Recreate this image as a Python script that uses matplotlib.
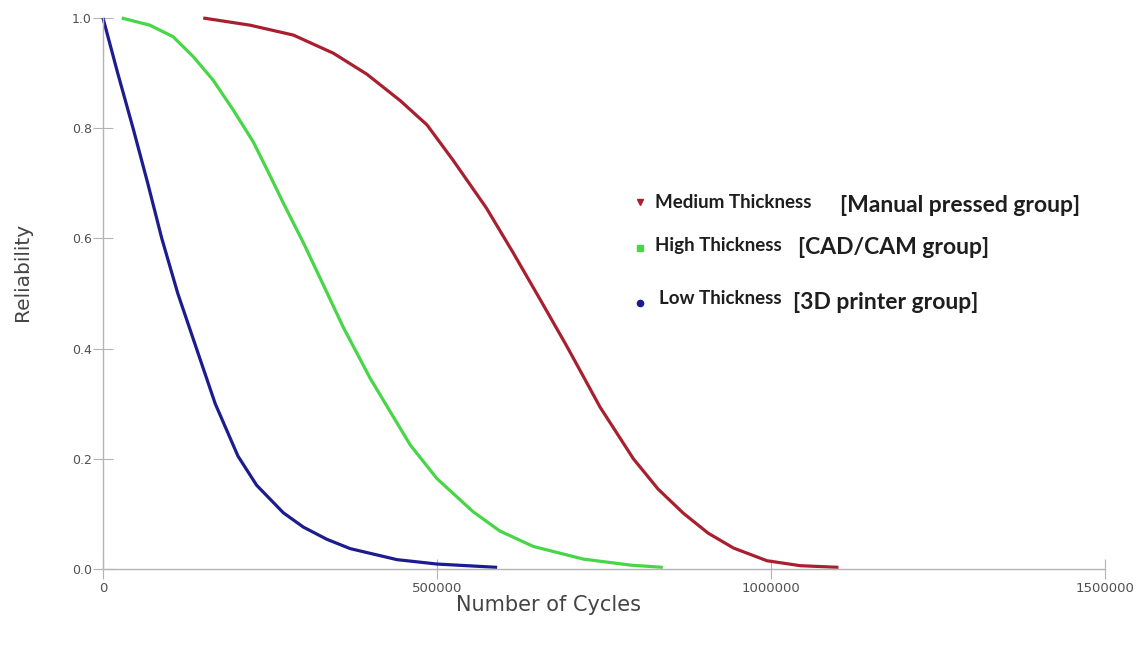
import matplotlib
matplotlib.use('Agg')
import matplotlib.pyplot as plt

# ── Reliability curves (cycles, reliability) ──────────────────────────────────
MEDIUM_CYCLES = [150000, 220000, 285000, 345000, 395000, 445000, 485000, 524000,
                 574000, 614000, 654000, 694000, 722000, 744000, 794000,
                 831000, 869000, 906000, 944000, 994000, 1044000, 1101000]
MEDIUM_REL = [1.0, 0.987, 0.969, 0.936, 0.898, 0.850, 0.806, 0.742,
              0.655, 0.574, 0.49, 0.405, 0.343, 0.294, 0.2,
              0.145, 0.101, 0.065, 0.038, 0.015, 0.006, 0.003]

HIGH_CYCLES = [28000, 70000, 105000, 135000, 165000, 195000, 225000, 250000,
               270000, 300000, 325000, 360000, 400000, 460000, 500000, 554000,
               594000, 644000, 719000, 790000, 838000]
HIGH_REL = [1.0, 0.987, 0.966, 0.930, 0.887, 0.833, 0.775, 0.714,
            0.664, 0.592, 0.528, 0.438, 0.346, 0.225, 0.164, 0.104,
            0.069, 0.041, 0.018, 0.007, 0.003]

LOW_CYCLES = [0, 22000, 45000, 67000, 88000, 112000, 140000, 168000, 202000,
              230000, 270000, 300000, 335000, 370000, 440000, 500000, 590000]
LOW_REL = [1.0, 0.9, 0.8, 0.7, 0.6, 0.5, 0.4, 0.3, 0.205,
           0.152, 0.102, 0.076, 0.054, 0.037, 0.017, 0.009, 0.003]

X_TICKS = [0, 500000, 1000000, 1500000]
Y_TICKS = [0.0, 0.2, 0.4, 0.6, 0.8, 1.0]

RED = '#a8202f'
GREEN = '#46d646'
BLUE = '#1c1c90'
GRAY_TXT = '#505050'
SPINE = '#b4b4b4'

plt.rcParams['font.family'] = ['DejaVu Sans']

fig = plt.figure(figsize=(11.45, 6.48), dpi=100)
ax = fig.add_axes([103 / 1145, 1 - 569 / 648, 1002 / 1145, 551 / 648])

for xs, ys, col in [(MEDIUM_CYCLES, MEDIUM_REL, RED),
                    (HIGH_CYCLES, HIGH_REL, GREEN),
                    (LOW_CYCLES, LOW_REL, BLUE)]:
    ax.plot(xs, ys, color=col, lw=2.3, clip_on=False,
            solid_capstyle='butt', solid_joinstyle='round')

ax.set_xlim(0, 1500000)
ax.set_ylim(0, 1.0)
ax.set_xticks(X_TICKS)
ax.set_xticklabels([str(t) for t in X_TICKS])
ax.set_yticks(Y_TICKS)
ax.set_yticklabels(['%.1f' % t for t in Y_TICKS])

for side in ('top', 'right'):
    ax.spines[side].set_visible(False)
for side in ('left', 'bottom'):
    ax.spines[side].set_color(SPINE)
    ax.spines[side].set_linewidth(1.0)

ax.tick_params(axis='both', direction='inout', length=14, width=0.8,
               color=SPINE, labelcolor=GRAY_TXT)
ax.tick_params(axis='y', pad=1, labelsize=9)
ax.tick_params(axis='x', pad=2, labelsize=9.5)

fig.text(22 / 1145, 1 - 272 / 648, 'Reliability', rotation=90, ha='center', va='center',
         fontsize=14.5, color='#444444')
fig.text(548 / 1145, 1 - 605 / 648, 'Number of Cycles', ha='center', va='center',
         fontsize=15, color='#444444')

# ── Hand-placed legend ────────────────────────────────────────────────────────
name_font = dict(family=['Lato', 'DejaVu Sans'], fontweight='bold', fontsize=13.5,
                 color='#1e1e1e', va='center', ha='left')
group_font = dict(family=['Lato', 'DejaVu Sans'], fontweight='bold', fontsize=16.5,
                  color='#1e1e1e', va='center', ha='left')
entries = [
    ('v', RED, 202, 'Medium Thickness', 655, 203, '[Manual pressed group]', 840, 205),
    ('s', GREEN, 248, 'High Thickness', 655, 245, '[CAD/CAM group]', 798, 247),
    ('o', BLUE, 303, 'Low Thickness', 659, 298, '[3D printer group]', 793, 302),
]
for marker, col, ym, name, xn, yn, group, xg, yg in entries:
    fig.lines.append(plt.Line2D([640 / 1145], [1 - ym / 648], marker=marker, color=col,
                                markersize=4.5, linestyle='none',
                                transform=fig.transFigure))
    fig.text(xn / 1145, 1 - yn / 648, name, **name_font)
    fig.text(xg / 1145, 1 - yg / 648, group, **group_font)

fig.savefig('out.png', dpi=100, facecolor='white')
